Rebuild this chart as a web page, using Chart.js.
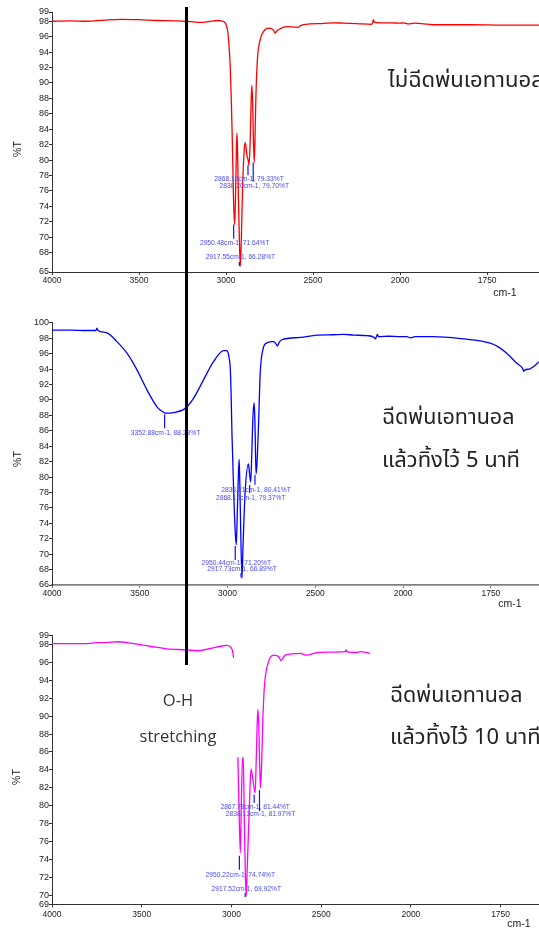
<!DOCTYPE html>
<html>
<head>
<meta charset="utf-8">
<script src="https://cdn.jsdelivr.net/npm/chart.js@4.4.1/dist/chart.umd.min.js"></script>
<style>
  html, body { margin: 0; padding: 0; background: #fff; }
  body { width: 539px; height: 929px; position: relative; overflow: hidden; }
  .panel { position: absolute; left: 0; width: 539px; }
  .txt { position: absolute; white-space: nowrap; color: #222; transform: translate(-50%, -50%); }
  .ax { font: 10.5px "Liberation Sans", Arial, sans-serif; }
  .rot { transform: translate(-50%, -50%) rotate(-90deg); }
  .cap { position: absolute; white-space: nowrap; color: #222; font-size: 22px; line-height: 26px;
         font-family: "Noto Sans Thai", "Noto Sans Thai UI", "Leelawadee UI", Tahoma, "Noto Sans", sans-serif;
         transform: translateY(-50%); }
  .oh { font: 16.5px "Open Sans", sans-serif; color: #333; }
  #bar { position: absolute; left: 185px; top: 7px; width: 3px; height: 658px; background: #000; z-index: 5; }
</style>
</head>
<body>

<div class="panel" style="top:0;height:290px"><canvas id="ir1"></canvas></div>
<div class="panel" style="top:300px;height:310px"><canvas id="ir2"></canvas></div>
<div class="panel" style="top:615px;height:314px"><canvas id="ir3"></canvas></div>

<div class="txt ax rot" style="left:17px;top:149px">%T</div>
<div class="txt ax rot" style="left:17px;top:459px">%T</div>
<div class="txt ax rot" style="left:16px;top:777px">%T</div>
<div class="txt ax" style="left:505px;top:292px">cm-1</div>
<div class="txt ax" style="left:510px;top:603px">cm-1</div>
<div class="txt ax" style="left:519px;top:923px">cm-1</div>

<div class="cap" style="left:388px;top:81px">ไม่ฉีดพ่นเอทานอล</div>
<div class="cap" style="left:382px;top:418px;font-size:21.5px">ฉีดพ่นเอทานอล</div>
<div class="cap" style="left:382px;top:461px">แล้วทิ้งไว้ 5 นาที</div>
<div class="cap" style="left:390px;top:696px;font-size:21.5px">ฉีดพ่นเอทานอล</div>
<div class="cap" style="left:390px;top:738px">แล้วทิ้งไว้ 10 นาที</div>
<div class="txt oh" style="left:178px;top:699px">O-H</div>
<div class="txt oh" style="left:178px;top:735px">stretching</div>

<div id="bar"></div>

<script>
// shared x ticks (cm-1), the instrument doubles the scale below 2000
var xTicks = [4000, 3500, 3000, 2500, 2000, 1750];

// ---- spectrum 1 : no ethanol spray (red)
var wn1 = [4000, 3900, 3800, 3700, 3600, 3500, 3400, 3300, 3230, 3180, 3150, 3100, 3050, 3020, 3004, 2995,
  2989, 2982, 2976, 2970, 2965, 2957, 2950.5, 2945, 2940, 2937, 2933, 2928, 2922, 2917.5, 2912, 2905, 2895,
  2889, 2880, 2874, 2870, 2868, 2862, 2856, 2852, 2848, 2843, 2838, 2833, 2829, 2820, 2804, 2785, 2757, 2735,
  2722, 2718, 2710, 2699, 2651, 2600, 2584, 2575, 2517, 2450, 2383, 2326, 2250, 2163, 2157, 2154, 2148, 2115,
  2050, 2000, 1990, 1976, 1960, 1904, 1800, 1700, 1601];
var t1 = [98.0, 98.05, 98.0, 98.15, 98.25, 98.2, 98.1, 98.05, 98.0, 97.9, 97.85, 97.95, 98.1, 98.0, 97.75, 97.2,
  96.45, 94.5, 92.1, 88, 83.5, 74.8, 71.64, 76, 82, 83.5, 80, 74, 68.5, 66.28, 70, 76.5, 81.5,
  82.25, 80.6, 80.1, 79.6, 79.33, 82, 87.5, 89.7, 88, 83, 79.7, 83.5, 87.8, 93, 95.6, 96.65, 97.1, 97.0,
  96.6, 96.45, 96.7, 96.9, 97.3, 97.25, 97.2, 97.4, 97.65, 97.7, 97.8, 97.75, 97.7, 97.6, 97.9, 98.2, 97.9, 97.8,
  97.8, 97.75, 97.8, 97.65, 97.75, 97.55, 97.55, 97.5, 97.5];
var peakWn1 = [2950.48, 2917.55, 2868.19, 2838.20];
var peakT1 = [71.64, 66.28, 79.33, 79.70];
var yTicks1 = [65.5, 68, 70, 72, 74, 76, 78, 80, 82, 84, 86, 88, 90, 92, 94, 96, 98, 99.2];

// ---- spectrum 2 : sprayed, left 5 min (blue)
var wn2 = [4000, 3900, 3800, 3750, 3744, 3738, 3687, 3630, 3573, 3516, 3459, 3402, 3365, 3352.9, 3308, 3241,
  3194, 3137, 3080, 3023, 3005, 2998, 2990, 2985, 2980, 2975, 2965, 2956, 2950.4, 2945, 2938, 2934, 2930, 2925,
  2917.7, 2912, 2900, 2881, 2875, 2868, 2862, 2855, 2848, 2843, 2838, 2833, 2824, 2814, 2799, 2776, 2738, 2725,
  2716, 2705, 2691, 2586, 2491, 2400, 2340, 2280, 2207, 2165, 2159, 2150, 2146, 2140, 2080, 2017, 1990, 1978,
  1965, 1914, 1819, 1780, 1752, 1730, 1705, 1676, 1660, 1656, 1653, 1640, 1629, 1613];
var t2 = [99.05, 99.05, 99.0, 99.0, 99.3, 99.0, 98.7, 97.55, 96.05, 93.9, 91.3, 89.1, 88.4, 88.28, 88.35, 88.9,
  90.2, 92.6, 94.95, 96.4, 96.4, 96.2, 95.3, 94.3, 91, 85.7, 78, 72.7, 71.2, 75, 80.5, 82.3, 79, 73,
  66.89, 71, 78, 81.7, 80.5, 79.37, 83, 88, 89.6, 86, 80.41, 81.5, 86.5, 93.5, 96.5, 97.4, 97.55, 97.3,
  97.0, 97.5, 97.8, 98.1, 98.4, 98.45, 98.5, 98.4, 98.33, 98.1, 97.9, 98.3, 98.5, 98.2, 98.25, 98.2, 98.2, 98.05,
  98.2, 98.2, 97.87, 97.65, 97.35, 96.9, 96.05, 94.75, 94.1, 93.7, 93.9, 94.0, 94.3, 94.95];
var peakWn2 = [3352.88, 2838.21, 2868.16, 2950.44, 2917.73];
var peakT2 = [88.28, 80.41, 79.37, 71.20, 66.89];
var yTicks2 = [66, 68, 70, 72, 74, 76, 78, 80, 82, 84, 86, 88, 90, 92, 94, 96, 98, 100];

// ---- spectrum 3 : sprayed, left 10 min (magenta), trace has a gap near 2975
var wn3 = [4000, 3900, 3800, 3750, 3700, 3638, 3545, 3452, 3359, 3249, 3192, 3118, 3060, 3025, 3007, 2998,
  2994, 2988, 2986, 2964, 2958, 2950.2, 2945, 2938, 2934, 2928, 2922, 2917.5, 2912, 2900, 2891, 2883, 2877,
  2868, 2862, 2856, 2852, 2847, 2842, 2838, 2830, 2825, 2816, 2794, 2766, 2747, 2735, 2723, 2712, 2700, 2617,
  2579, 2524, 2450, 2366, 2362, 2356, 2301, 2283, 2227];
var t3 = [98.1, 98.1, 98.1, 98.2, 98.2, 98.3, 98.1, 97.8, 97.5, 97.4, 97.3, 97.55, 97.8, 97.9, 97.75, 97.5,
  97.3, 96.5, null, 85.4, 80, 74.74, 80, 85.4, 85.4, 78, 72, 69.92, 73, 80, 84.1, 83.3, 82.4,
  81.44, 85, 89.5, 90.75, 88.5, 84, 81.97, 85.9, 89.6, 93.4, 96.0, 96.8, 96.75, 96.6, 96.2, 96.5, 96.8, 97.0,
  96.8, 97.1, 97.15, 97.2, 97.4, 97.2, 97.1, 97.2, 97.0];
var peakWn3 = [2867.78, 2838.13, 2950.22, 2917.52];
var peakT3 = [81.44, 81.97, 74.74, 69.92];
var yTicks3 = [69, 70, 72, 74, 76, 78, 80, 82, 84, 86, 88, 90, 92, 94, 96, 98, 99];

// position along the axis, 2000..400 region is stretched 2x
function irPos(w) { return w >= 2000 ? 4000 - w : 2000 + (2000 - w) * 2; }

class IrScale extends Chart.LinearScale {
  getPixelForValue(value) {
    if (value === null || value === undefined) return NaN;
    return this.getPixelForDecimal(irPos(value) / irPos(this.min));
  }
  getValueForPixel(pixel) {
    var u = this.getDecimalForPixel(pixel) * irPos(this.min);
    return u <= 2000 ? 4000 - u : 2000 - (u - 2000) / 2;
  }
}
IrScale.id = 'ir';
IrScale.defaults = {};
Chart.register(IrScale);

// blue peak pick marks + labels
var peakMarks = {
  id: 'peakMarks',
  afterDatasetsDraw: function (chart, args, opts) {
    var ctx = chart.ctx, xs = chart.scales.x, ys = chart.scales.y;
    ctx.save();
    ctx.font = '6.7px "Liberation Sans", Arial, sans-serif';
    ctx.textAlign = 'center';
    ctx.textBaseline = 'middle';
    opts.wn.forEach(function (w, i) {
      var px = xs.getPixelForValue(w), py = ys.getPixelForValue(opts.t[i]);
      ctx.strokeStyle = '#1010ff';
      ctx.lineWidth = 1.2;
      ctx.beginPath();
      ctx.moveTo(px - 1, py + opts.mark[i][0]);
      ctx.lineTo(px - 1, py + opts.mark[i][1]);
      ctx.stroke();
      ctx.fillStyle = '#4848ff';
      ctx.fillText(w.toFixed(2) + 'cm-1, ' + opts.t[i].toFixed(2) + '%T', px, py + opts.dy[i]);
    });
    ctx.restore();
  }
};

function irChart(id, wn, t, cfg) {
  var pts = wn.map(function (w, i) { return { x: w, y: t[i] }; });
  return new Chart(document.getElementById(id), {
    type: 'line',
    data: { datasets: [{ data: pts, borderColor: cfg.color, borderWidth: 1.3, pointRadius: 0,
      cubicInterpolationMode: 'monotone', spanGaps: false, fill: false }] },
    plugins: [peakMarks],
    options: {
      animation: false,
      responsive: true,
      maintainAspectRatio: false,
      layout: { padding: { top: cfg.padTop, left: 0, right: 0, bottom: 0 } },
      plugins: { legend: { display: false }, tooltip: { enabled: false }, peakMarks: cfg.peaks },
      scales: {
        x: {
          type: 'ir', min: cfg.xMin, max: 4000,
          afterBuildTicks: function (s) { s.ticks = xTicks.map(function (v) { return { value: v }; }); },
          afterFit: function (s) { s.height = cfg.xAxisH; },
          grid: { drawOnChartArea: false, tickLength: 3, color: cfg.xLine },
          border: { color: cfg.xLine, width: cfg.xLineW },
          ticks: { autoSkip: false, maxRotation: 0, padding: cfg.xPad, color: '#222',
            font: { family: '"Liberation Sans", Arial, sans-serif', size: 8.5 },
            callback: function (v) { return String(v); } }
        },
        y: {
          min: cfg.yMin, max: cfg.yMax,
          afterBuildTicks: function (s) { s.ticks = cfg.yTicks.map(function (v) { return { value: v }; }); },
          afterFit: function (s) { s.width = 52; },
          grid: { drawOnChartArea: false, tickLength: 3, color: '#333' },
          border: { color: '#333', width: 1 },
          ticks: { autoSkip: false, padding: 0, color: '#222',
            font: { family: '"Liberation Sans", Arial, sans-serif', size: 9 },
            callback: function (v) { return String(Math.floor(v)); } }
        }
      }
    }
  });
}

irChart('ir1', wn1, t1, {
  color: '#ff0000', xMin: 1601, yMin: 65.5, yMax: 99.2, yTicks: yTicks1,
  padTop: 12, xAxisH: 18, xPad: 1, xLine: '#333', xLineW: 1,
  peaks: { wn: peakWn1, t: peakT1, mark: [[0, 14], [-4, 0], [0, 10], [0, 19]], dy: [19, -8.5, 14, 24] }
});
irChart('ir2', wn2, t2, {
  color: '#0000ff', xMin: 1613, yMin: 66, yMax: 100.1, yTicks: yTicks2,
  padTop: 22, xAxisH: 25, xPad: 1, xLine: '#808080', xLineW: 1.8,
  peaks: { wn: peakWn2, t: peakT2, mark: [[1, 15], [1, 11], [3, 11], [1, 15], [-5, -1]], dy: [19.5, 16, 16, 18.5, -9] }
});
irChart('ir3', wn3, t3, {
  color: '#ff00ff', xMin: 1643, yMin: 69, yMax: 99, yTicks: yTicks3,
  padTop: 20.5, xAxisH: 24.7, xPad: 2, xLine: '#333', xLineW: 1,
  peaks: { wn: peakWn3, t: peakT3, mark: [[2, 10], [2, 23], [3, 17], [-3, 1]], dy: [14, 26.5, 22, -7] }
});
</script>
</body>
</html>
